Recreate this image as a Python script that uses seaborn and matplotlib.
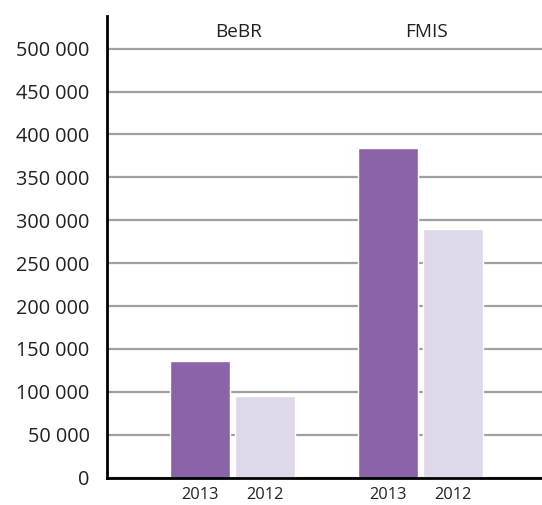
import matplotlib
matplotlib.use("Agg")
import matplotlib.pyplot as plt
import matplotlib.transforms as mtransforms
import seaborn as sns
import pandas as pd

sources = ["BeBR", "FMIS"]
years = ["2013", "2012"]
values_2013 = [136000, 384000]
values_2012 = [95000, 290000]
y_ticks = [0, 50000, 100000, 150000, 200000, 250000, 300000, 350000, 400000, 450000, 500000]
y_tick_labels = ["0", "50 000", "100 000", "150 000", "200 000", "250 000",
                 "300 000", "350 000", "400 000", "450 000", "500 000"]

df = pd.DataFrame({
    "source": sources * 2,
    "year": [years[0]] * len(sources) + [years[1]] * len(sources),
    "value": values_2013 + values_2012,
})

sns.set_style("white")
plt.rcParams["font.family"] = ["Open Sans", "DejaVu Sans"]

fig = plt.figure(figsize=(5.42, 5.05), dpi=100)
ax = fig.add_axes([107 / 542, 1 - 477.7 / 505, 1 - 107 / 542, (477.7 - 16) / 505])

sns.barplot(data=df, x="source", y="value", hue="year", hue_order=years,
            order=sources, palette=["#8B63A9", "#DFD7EA"], width=0.69, gap=0.077,
            saturation=1, legend=False, ax=ax, zorder=3)

ax.set_xlim(-0.668, 1.646)
ax.set_ylim(0, 538000)
ax.set_yticks(y_ticks)
ax.set_yticklabels(y_tick_labels, fontsize=14.3, color="#231f20")
ax.yaxis.grid(True, color="#a0a0a0", linewidth=1.6, zorder=0)
ax.set_axisbelow(True)

# Tick labels for the years sit under each bar
centers, labels = [], []
for container, yr in zip(ax.containers, years):
    for bar in container:
        centers.append(bar.get_x() + bar.get_width() / 2)
        labels.append(yr)
ax.set_xticks(centers)
ax.set_xticklabels(labels, fontsize=11.8, color="#231f20")
ax.tick_params(axis="both", length=0)
ax.tick_params(axis="x", pad=7)
ax.tick_params(axis="y", pad=12.5)

ax.set_xlabel("")
ax.set_ylabel("")

for side in ["top", "right"]:
    ax.spines[side].set_visible(False)
for side in ["left", "bottom"]:
    ax.spines[side].set_color("black")
    ax.spines[side].set_linewidth(2)
    ax.spines[side].set_zorder(5)

# Source names above each group
trans = mtransforms.blended_transform_factory(ax.transData, ax.transAxes)
for i, name in enumerate(sources):
    ax.text(i + 0.03, 0.966, name, transform=trans, ha="center", va="center",
            fontsize=13.7, color="#231f20")

fig.savefig("out.png", dpi=100)
